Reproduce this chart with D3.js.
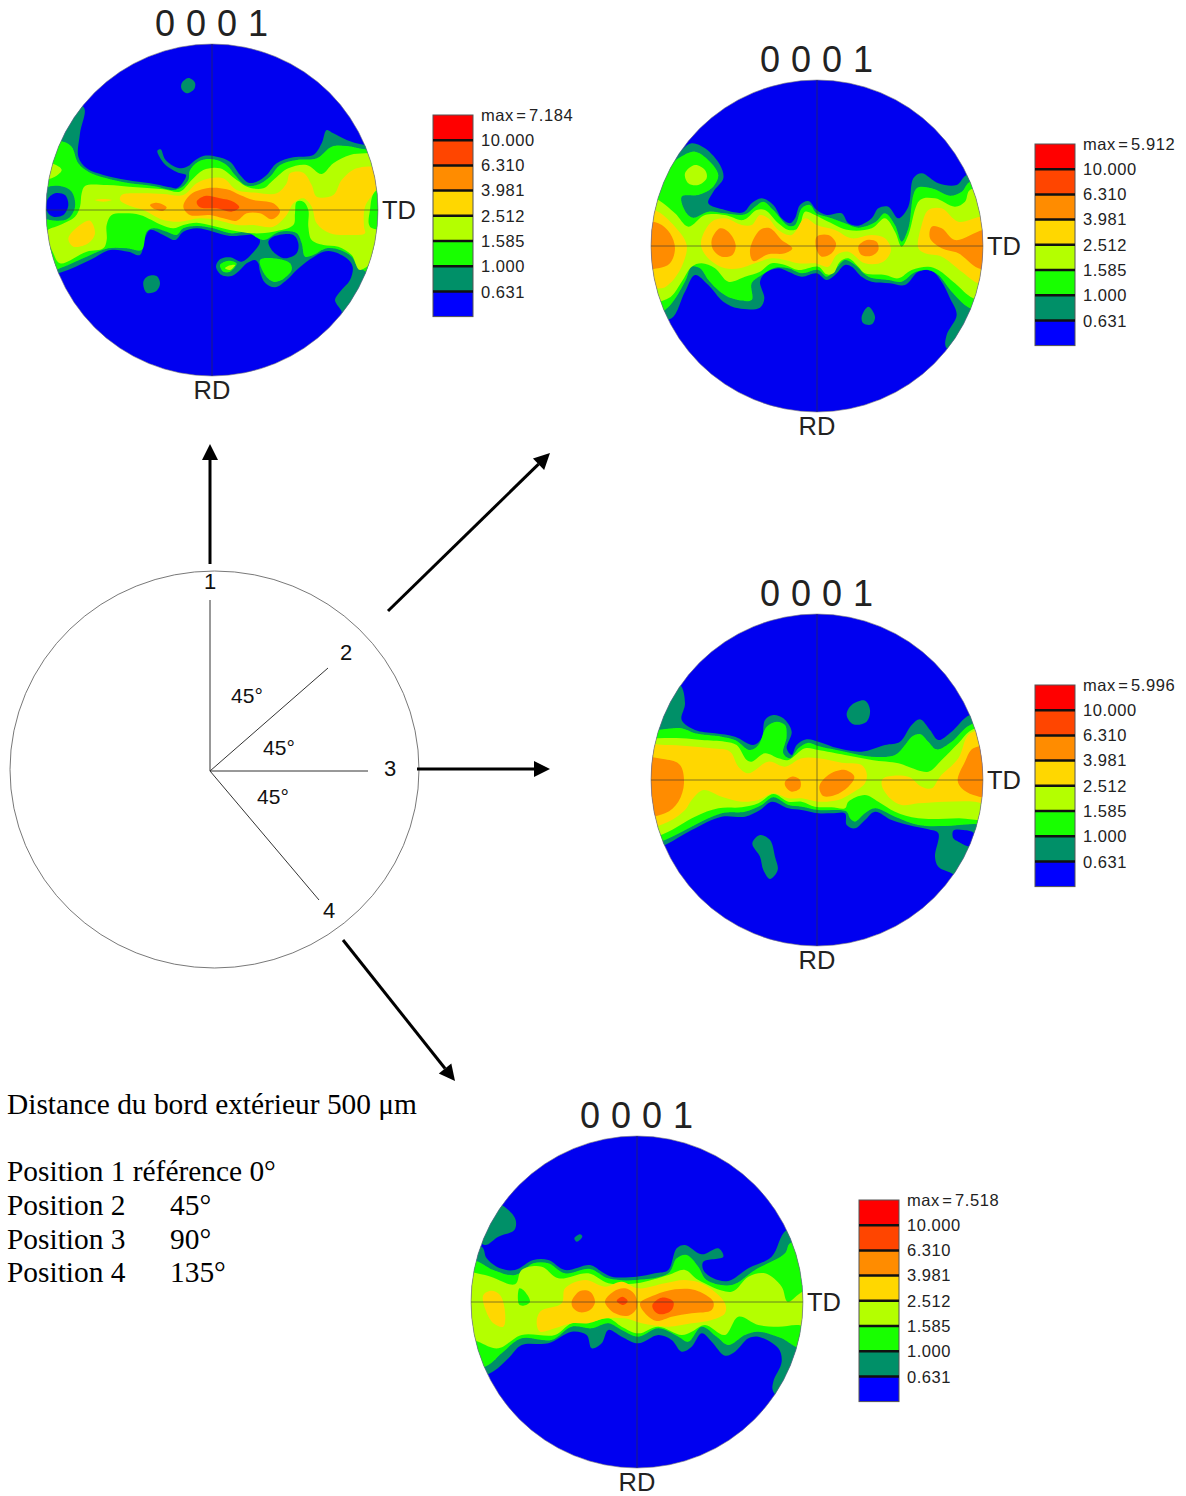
<!DOCTYPE html>
<html><head><meta charset="utf-8">
<script src="https://cdn.jsdelivr.net/npm/d3@7/dist/d3.min.js"></script>
<style>html,body{margin:0;padding:0;background:#fff}svg{display:block}</style>
</head><body><svg id="c" width="1186" height="1496"></svg>
<script>
// Contour levels (multiples of random density), low to high
const levelLabels = ["10.000","6.310","3.981","2.512","1.585","1.000","0.631"];
const levelColors = ["#0000f0","#009068","#18ff00","#b4ff00","#ffd700","#ff8c00","#ff4500","#ff0000"];
const poleTitle = "0 0 0 1";

// Each ring: [level index, [x,y,x,y,...]], in pole-figure units
const fig1Rings = [
 [1,[130,20,120,100,115,170,140,205,190,225,260,240,330,250,390,262,410,265,430,245,438,225,415,218,390,205,368,185,352,152,362,148,375,178,400,198,425,205,445,198,460,185,490,168,530,170,570,185,600,225,625,248,650,245,680,225,710,190,760,172,820,165,845,130,860,90,880,100,920,120,975,135,1100,135,1100,680,905,650,905,635,885,600,900,575,930,540,938,500,920,475,880,455,850,455,810,478,770,510,740,540,705,562,675,548,660,515,655,490,645,480,620,490,600,510,575,528,545,525,528,500,540,478,570,472,605,485,635,462,660,425,650,405,620,405,570,408,520,395,470,385,430,395,405,420,370,405,330,390,315,415,300,465,265,455,210,450,150,480,60,518,-50,540,-50,50]],
 [1,[310,545,325,528,350,528,360,550,350,572,320,578]],
 [1,[425,-50,445,-66,465,-52,462,-32,440,-20,425,-32]],
 [2,[70,125,95,140,115,190,145,215,200,235,270,250,340,258,400,270,425,262,445,240,450,210,480,182,520,178,560,195,585,225,615,255,650,255,690,230,720,195,770,180,830,175,875,140,920,138,975,148,1080,148,1080,540,955,500,935,470,900,450,860,445,820,465,795,470,785,430,770,400,720,395,670,420,620,397,570,400,520,385,470,378,430,385,410,405,380,395,340,385,320,395,305,450,260,445,205,445,140,470,60,505,-50,540,-50,125]],
 [2,[660,480,700,475,750,490,755,510,725,540,700,545,675,525]],
 [2,[540,495,565,482,590,490,570,515,550,515]],
 [3,[555,505,570,496,585,495,570,510]],
 [3,[35,190,65,210,35,235,-20,235,-20,190]],
 [3,[135,258,200,255,290,262,370,268,420,275,455,240,490,210,540,205,590,240,625,262,670,265,700,240,745,205,800,195,845,222,880,190,930,165,975,160,1060,160,1060,270,1005,275,990,330,990,380,1060,400,960,510,935,465,895,440,850,435,815,420,805,380,805,330,790,305,770,305,765,340,760,375,700,395,640,400,570,390,520,378,470,368,430,375,400,385,365,375,300,345,250,340,215,345,200,375,200,420,190,445,140,455,60,490,40,460,20,395,60,375,105,350,120,320,125,280]],
 [4,[85,415,120,375,150,362,165,400,145,430,100,440]],
 [4,[165,300,190,297,215,300,190,305]],
 [4,[245,285,300,280,370,282,430,285,470,250,510,235,550,235,590,270,650,278,710,280,740,250,750,220,790,218,815,255,830,290,880,285,905,240,950,205,1005,205,1010,260,975,320,972,380,975,400,930,405,870,400,830,370,815,320,790,295,760,310,740,345,700,380,640,375,590,375,530,360,480,355,420,365,370,360,310,330,270,318,240,300]],
 [5,[430,320,450,285,500,265,560,268,600,285,640,300,700,310,720,335,695,358,660,340,620,340,590,362,550,355,510,345,450,345]],
 [5,[330,315,350,308,380,322,370,332,345,328]],
 [6,[470,305,495,288,540,295,580,305,598,322,575,335,530,325,480,322]],
 [1,[18,265,60,258,95,275,105,320,85,355,50,362,0,345]],
 [0,[22,300,45,280,75,285,85,315,70,345,40,350,22,335]],
 [0,[685,425,700,410,760,405,775,430,770,460,735,475,700,455]]
];
const fig2Rings = [
 [1,[110,45,140,25,180,40,225,90,235,130,205,170,190,205,240,225,295,232,320,205,350,190,385,210,410,250,435,265,450,250,465,210,490,198,515,225,545,240,590,235,610,265,640,272,680,250,700,220,730,215,760,250,790,215,805,130,830,115,880,145,935,150,965,120,1060,120,1060,700,905,640,905,600,935,540,915,490,890,440,860,408,820,410,780,450,735,445,680,440,650,425,620,395,600,390,570,420,545,435,515,415,470,425,430,410,400,400,360,415,345,440,358,490,345,518,280,520,235,500,190,450,150,420,120,470,75,552,-20,500,-20,100,60,100]],
 [1,[650,545,670,515,690,545,680,568,655,565]],
 [2,[100,70,150,50,195,80,220,120,200,160,160,180,110,185,125,235,145,248,190,230,240,235,300,238,330,215,355,200,385,225,430,272,450,270,470,220,495,210,515,235,560,250,600,265,640,278,690,262,720,235,750,270,770,320,790,280,815,160,860,160,915,182,950,170,975,140,1060,140,1060,540,975,520,920,470,880,420,850,405,810,412,770,440,730,435,670,425,630,390,600,375,570,405,545,425,520,405,470,415,430,400,390,398,350,420,320,445,320,495,260,490,225,470,190,435,165,400,140,395,120,440,60,525,-50,560,-50,100,60,100]],
 [3,[120,115,150,90,180,105,185,130,160,150,130,145]],
 [3,[-30,180,30,190,90,235,130,275,180,240,240,240,295,255,335,225,360,225,400,265,430,285,460,280,480,230,510,240,550,260,610,285,680,280,720,250,750,290,770,335,790,300,825,195,870,190,930,215,960,200,975,165,1060,170,1060,500,985,490,930,445,880,405,850,395,800,405,760,430,720,420,660,415,640,395,610,370,585,380,565,415,545,418,520,395,460,405,420,390,380,385,345,410,300,425,250,440,210,400,170,385,140,395,110,440,70,490,-50,500]],
 [4,[-30,215,30,225,90,275,125,330,110,395,75,445,50,460,-30,430]],
 [4,[170,310,200,260,240,250,290,270,320,270,345,240,370,250,400,285,440,300,480,250,515,270,570,285,620,310,680,300,720,310,738,345,715,380,660,385,610,350,575,360,550,395,510,385,460,385,420,375,380,370,330,385,285,400,240,400,195,375,170,340]],
 [4,[820,340,830,270,850,225,890,220,940,260,1005,245,1060,240,1060,450,1000,445,950,410,890,365,840,355]],
 [5,[-30,260,40,265,75,295,90,340,75,385,40,400,-30,395]],
 [5,[200,315,225,280,250,290,272,330,262,360,230,365,205,345]],
 [5,[315,345,345,285,375,280,410,315,442,340,420,355,370,358,325,378]],
 [5,[515,305,550,300,573,325,560,355,530,365,515,345]],
 [5,[640,335,665,315,695,320,700,345,680,362,650,360]],
 [5,[855,310,860,275,890,280,930,315,1014,285,1060,285,1060,405,1000,400,940,355,890,340]]
];
const fig3Rings = [
 [1,[105,45,120,100,110,150,150,180,210,190,270,200,325,225,350,205,360,150,385,135,415,145,440,185,425,235,440,255,455,225,485,208,520,215,580,235,650,245,720,225,765,215,800,165,825,148,855,180,880,210,920,185,975,135,1060,135,1060,700,920,610,880,590,870,560,880,490,850,478,790,465,740,450,690,425,660,450,630,475,605,465,600,430,560,430,520,430,470,420,430,415,380,395,345,420,300,440,230,440,140,480,60,525,-40,560,-40,60,60,45]],
 [1,[605,135,620,105,660,92,675,120,665,155,625,163]],
 [1,[322,520,345,495,375,510,390,560,398,600,375,627,355,600,345,560]],
 [2,[-40,195,40,180,110,175,150,190,230,200,270,210,315,240,340,225,365,170,395,155,420,165,425,200,415,250,435,265,460,235,490,218,520,228,600,245,680,260,750,255,780,225,800,200,825,192,850,215,875,238,920,215,975,165,1060,150,1060,460,985,462,900,468,820,465,750,440,690,415,660,430,630,455,615,445,605,425,570,420,520,420,470,410,430,405,385,382,350,405,300,425,230,430,150,465,60,510,-40,540]],
 [3,[-40,210,40,205,110,205,170,210,240,215,275,225,305,270,320,275,360,250,400,265,430,270,480,235,520,240,600,255,680,270,760,280,790,290,850,305,890,270,940,220,980,180,1060,165,1060,440,940,445,820,445,750,425,700,395,660,375,610,395,600,415,560,412,510,410,470,395,430,395,385,372,340,400,290,412,220,415,150,440,60,490,-40,520]],
 [4,[-40,230,60,225,200,235,255,245,280,290,310,310,370,275,420,290,470,265,520,265,590,278,650,285,665,310,660,340,620,370,580,390,520,395,470,385,430,385,385,370,340,390,290,395,230,380,175,360,140,390,120,420,60,460,-40,475]],
 [4,[710,345,715,325,790,320,830,350,860,355,885,320,940,265,975,190,1060,190,1060,410,990,395,900,395,820,400,770,405,735,385]],
 [5,[-40,270,60,268,105,285,117,340,100,395,60,430,-40,435]],
 [5,[420,335,440,320,465,330,465,355,440,365,422,350]],
 [5,[523,350,550,315,600,300,628,320,610,350,570,375,535,378]],
 [5,[938,330,960,275,985,235,1060,235,1060,380,985,375,950,355]],
 [0,[925,482,955,480,987,490,975,528,940,515,925,505]]
];
const fig4Rings = [
 [1,[130,45,152,75,148,105,100,125,60,150,30,120,100,30]],
 [1,[-40,170,50,155,65,190,105,220,150,225,205,195,250,195,300,225,375,210,410,230,440,245,515,245,570,235,610,225,635,160,660,150,710,178,760,160,775,185,715,200,715,225,745,250,790,258,850,220,920,185,965,105,1060,105,1060,700,925,590,925,560,950,500,940,460,880,425,850,430,810,470,780,482,740,440,710,415,680,455,650,470,620,435,580,420,520,445,470,425,430,405,410,445,380,460,365,420,320,410,250,445,170,450,130,490,75,535,-40,560]],
 [1,[328,130,345,118,352,125,335,140]],
 [2,[-40,200,25,195,85,225,150,240,205,205,250,205,300,235,375,222,430,250,515,255,610,235,635,190,665,180,700,215,725,255,800,270,870,225,960,175,975,145,1060,145,1060,440,1005,460,950,430,880,410,840,420,790,450,755,425,710,395,670,440,640,425,580,400,520,425,470,405,430,385,380,400,320,395,260,435,170,430,110,475,70,510,-40,540]],
 [3,[-40,235,60,240,150,268,170,225,230,215,280,250,370,235,430,265,515,265,610,240,660,225,700,255,800,290,850,245,900,235,950,275,968,320,1014,290,1060,290,1060,405,1000,390,940,395,880,390,820,365,780,420,720,390,680,410,650,420,580,395,520,415,470,395,430,370,380,380,320,385,270,420,170,420,100,460,40,440,-40,400]],
 [2,[163,280,175,285,195,320,175,332,162,328]],
 [4,[55,300,80,287,105,300,120,350,115,395,85,385,60,340]],
 [4,[215,385,225,350,290,325,300,280,360,255,420,275,470,260,520,280,600,265,660,255,720,270,780,325,780,355,740,375,680,385,610,395,530,385,480,370,420,370,370,385,320,385,270,400,225,410]],
 [5,[320,320,345,288,375,290,390,320,375,345,345,352,325,340]],
 [5,[420,320,445,290,480,280,510,300,515,340,490,362,450,355]],
 [5,[525,325,570,300,630,283,690,285,745,320,740,345,680,355,620,365,575,378,545,360]],
 [6,[455,318,472,305,488,318,475,330]],
 [6,[562,330,590,308,625,320,620,345,590,358,570,350]]
];

const figureMax = ["7.184","5.912","5.996","7.518"];
const figureRings = [fig1Rings, fig2Rings, fig3Rings, fig4Rings];
const figureCx = [212,817,817,637];
const figureCy = [210,246,780,1302];
const figureRow = [330,333,330,321];
const legendX = [433,1035,1035,859];
const legendY = [115,144,685,1200];
const positionNames = ["1","2","3","4"];
const textLines = [
 ["Distance du bord extérieur 500 μm",null],
 ["Position 1 référence 0°",null],
 ["Position 2","45°"],
 ["Position 3","90°"],
 ["Position 4","135°"]
];

const svg = d3.select("#c");
const defs = svg.append("defs");
defs.append("filter").attr("id","soft").append("feGaussianBlur").attr("stdDeviation",0.7);
const R = 166, sw = 25.2;
const ring = d3.line().curve(d3.curveCatmullRomClosed.alpha(0.5));

figureRings.forEach((rings,i)=>{
  const cx=figureCx[i], cy=figureCy[i], row=figureRow[i];
  const x=d3.scaleLinear().domain([18,1014]).range([cx-R,cx+R]);
  const y=d3.scaleLinear().domain([row-498,row+498]).range([cy-R,cy+R]);
  defs.append("clipPath").attr("id","d"+i).append("circle").attr("cx",cx).attr("cy",cy).attr("r",R);
  const g=svg.append("g");
  g.append("circle").attr("cx",cx).attr("cy",cy).attr("r",R).attr("fill",levelColors[0]);
  const inner=g.append("g").attr("clip-path",`url(#d${i})`).append("g").attr("filter","url(#soft)");
  inner.selectAll("path").data(rings).join("path")
    .attr("fill",d=>levelColors[d[0]])
    .attr("d",d=>ring(d3.range(0,d[1].length,2).map(k=>[x(d[1][k]),y(d[1][k+1])])));
  g.append("circle").attr("cx",cx).attr("cy",cy).attr("r",R).attr("fill","none").attr("stroke","#777").attr("stroke-width",0.6);
  g.append("line").attr("x1",cx-R).attr("x2",cx+R).attr("y1",cy).attr("y2",cy).attr("stroke","#333").attr("stroke-opacity",.6);
  g.append("line").attr("x1",cx).attr("x2",cx).attr("y1",cy-R).attr("y2",cy+R).attr("stroke","#333").attr("stroke-opacity",.6);
  g.append("text").text(poleTitle).attr("x",cx-57).attr("y",cy-174)
    .attr("font-family","Liberation Sans").attr("font-size",36).attr("letter-spacing",0.5).attr("fill","#222");
  g.append("text").text("TD").attr("x",cx+170).attr("y",cy+9).attr("font-family","Liberation Sans").attr("font-size",25.5).attr("fill","#222");
  g.append("text").text("RD").attr("x",cx).attr("y",cy+189).attr("text-anchor","middle").attr("font-family","Liberation Sans").attr("font-size",25.5).attr("fill","#222");
  // legend
  const lx=legendX[i], ly=legendY[i];
  const order=d3.range(7,-1,-1);
  const ys=d3.scaleBand().domain(order).range([ly,ly+8*sw]);
  const lg=svg.append("g");
  lg.selectAll("rect").data(order).join("rect").attr("x",lx).attr("y",d=>ys(d)).attr("width",40).attr("height",ys.bandwidth()).attr("fill",d=>d===0?"#0000ff":levelColors[d]);
  lg.append("rect").attr("x",lx).attr("y",ly).attr("width",40).attr("height",8*sw).attr("fill","none").attr("stroke","#555").attr("stroke-width",1);
  lg.selectAll("line").data(order.slice(1)).join("line").attr("x1",lx).attr("x2",lx+40).attr("y1",d=>ys(d)).attr("y2",d=>ys(d)).attr("stroke","#111").attr("stroke-width",2.5);
  const labels=["max = "+figureMax[i]].concat(levelLabels);
  lg.selectAll("text").data(labels).join("text").text(d=>d).attr("x",lx+48).attr("y",(d,k)=>ly+k*25.3+5.5)
    .attr("word-spacing",(d,k)=>k===0?-2.6:0)
    .attr("font-family","Liberation Sans").attr("font-size",16.5).attr("fill","#222").attr("letter-spacing",.55);
});

// Position diagram
const dx=d3.scaleLinear().domain([-1,1]).range([10,419]);
const dy=d3.scaleLinear().domain([-1,1]).range([968,571]);
const diagram=svg.append("g");
diagram.append("ellipse").attr("cx",dx(0)).attr("cy",dy(0)).attr("rx",204.5).attr("ry",198.5).attr("fill","none").attr("stroke","#555").attr("stroke-width",.8);
const spokesX=[210,328,368,319], spokesY=[600,668,771,900];
spokesX.forEach((sx,i)=>diagram.append("line").attr("x1",210).attr("y1",771).attr("x2",sx).attr("y2",spokesY[i]).attr("stroke","#333").attr("stroke-width",1));
const posLabelX=[210,346,390,329], posLabelY=[581,652,768,910];
positionNames.forEach((t,i)=>diagram.append("text").text(t).attr("x",posLabelX[i]).attr("y",posLabelY[i]+8).attr("text-anchor","middle").attr("font-family","Liberation Sans").attr("font-size",22).attr("fill","#111"));
const angleX=[247,279,273], angleY=[695,747,796];
angleX.forEach((ax,i)=>diagram.append("text").text("45°").attr("x",ax).attr("y",angleY[i]+8).attr("text-anchor","middle").attr("font-family","Liberation Sans").attr("font-size",21).attr("fill","#111"));

const arrows=[[210,564,210,444],[388,611,550,453],[417,769,550,769],[343,940,455,1081]];
arrows.forEach(([a,b,c,d])=>{
  const ang=Math.atan2(d-b,c-a),L=16,W=8;
  const bx=c-L*Math.cos(ang),by=d-L*Math.sin(ang);
  diagram.append("line").attr("x1",a).attr("y1",b).attr("x2",bx).attr("y2",by).attr("stroke","#000").attr("stroke-width",3);
  diagram.append("path").attr("fill","#000").attr("d",d3.line()([[c,d],[bx-W*Math.sin(ang),by+W*Math.cos(ang)],[bx+W*Math.sin(ang),by-W*Math.cos(ang)]])+"Z");
});

// Notes
const noteY=[1114,1181,1215,1249,1282], noteX2=[0,0,170,170,170];
textLines.forEach((t,i)=>{
  svg.append("text").text(t[0]).attr("x",7).attr("y",noteY[i]).attr("font-family","Liberation Serif").attr("font-size",29.4).attr("fill","#000");
  if(t[1]) svg.append("text").text(t[1]).attr("x",noteX2[i]).attr("y",noteY[i]).attr("font-family","Liberation Serif").attr("font-size",29.4).attr("fill","#000");
});
</script></body></html>
